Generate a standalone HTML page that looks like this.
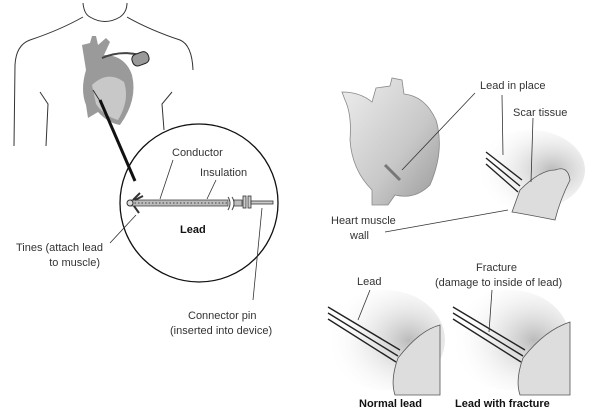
<!DOCTYPE html>
<html><head><meta charset="utf-8"><style>
html,body{margin:0;padding:0;background:#fff;width:600px;height:417px;overflow:hidden}
svg{display:block}
text{font-family:"Liberation Sans",sans-serif;font-size:11px;fill:#333}
.b{font-weight:bold;fill:#111}
</style></head><body>
<svg width="600" height="417" viewBox="0 0 600 417" xmlns="http://www.w3.org/2000/svg">
<defs>
<radialGradient id="sh" cx="0.7" cy="0.5" r="0.7"><stop offset="0" stop-color="#bbb"/><stop offset="1" stop-color="#fff" stop-opacity="0"/></radialGradient>
<linearGradient id="hg" x1="0" y1="0" x2="1" y2="1"><stop offset="0" stop-color="#eee"/><stop offset="0.6" stop-color="#c8c8c8"/><stop offset="1" stop-color="#999"/></linearGradient>
</defs>
<g fill="none" stroke="#333" stroke-width="1">
<!-- body -->
<path d="M83 3 Q84 14 90 17 Q105 26 120 17 Q127 12 127 3"/>
<path d="M83 17 Q60 30 30 40 Q16 45 15 65 L14 146"/>
<path d="M127 17 Q150 30 180 40 Q192 45 193 70"/>
<path d="M40 92 L48 104 L46 146"/>
<path d="M172 92 L162 104 L164 130"/>
</g>
<!-- small heart -->
<path d="M82 45 L90 43 L92 36 L96 36 L98 45 L106 38 L110 42 L104 55 Q125 55 132 75 Q138 100 120 125 Q108 123 98 112 L88 118 L86 105 Q80 90 86 70 Z" fill="#9a9a9a"/>
<path d="M92 85 Q108 70 124 82 Q130 100 118 120 Q104 116 96 104 Z" fill="#c8c8c8"/>
<path d="M102 58 Q120 50 140 55" stroke="#444" stroke-width="2" fill="none"/>
<rect x="132" y="53" width="17" height="12" rx="5" transform="rotate(-20 140 59)" fill="#999" stroke="#222"/>
<path d="M93 90 Q98 98 102 104" stroke="#333" fill="none"/>
<line x1="100" y1="100" x2="135" y2="181" stroke="#111" stroke-width="3"/>
<!-- circle -->
<circle cx="199" cy="203" r="79" fill="none" stroke="#111" stroke-width="1.3"/>
<rect x="130" y="200" width="98" height="6" fill="#bbb" stroke="#444" stroke-width="0.8"/>
<line x1="131" y1="203" x2="228" y2="203" stroke="#444" stroke-dasharray="1.5 2" stroke-width="1"/>
<path d="M228 197 Q232 203 228 210 M232 197 Q236 203 232 210" stroke="#444" fill="none"/>
<rect x="234" y="200" width="8" height="6" fill="#bbb" stroke="#444" stroke-width="0.8"/>
<rect x="243" y="196" width="3" height="12" fill="#ccc" stroke="#333" stroke-width="0.8"/>
<rect x="248" y="196" width="3" height="12" fill="#ccc" stroke="#333" stroke-width="0.8"/>
<rect x="251" y="201" width="22" height="3" fill="#ccc" stroke="#333" stroke-width="0.8"/>
<circle cx="130" cy="203" r="3" fill="#ddd" stroke="#333"/>
<path d="M133 200 L140 193 M135 200 L143 196 M134 206 L139 213" stroke="#333" stroke-width="2"/>
<g stroke="#333" stroke-width="0.8">
<line x1="173" y1="160" x2="160" y2="199"/>
<line x1="216" y1="180" x2="207" y2="199"/>
<line x1="136" y1="215" x2="110" y2="243"/>
<line x1="262" y1="208" x2="253" y2="300"/>
</g>
<text x="172" y="156">Conductor</text>
<text x="200" y="176">Insulation</text>
<text x="180" y="233" class="b">Lead</text>
<text x="103" y="251" text-anchor="end">Tines (attach lead</text>
<text x="100" y="266" text-anchor="end">to muscle)</text>
<text x="188" y="319">Connector pin</text>
<text x="170" y="334">(inserted into device)</text>
<!-- right heart -->
<path d="M342 92 Q360 92 372 102 L376 88 L390 86 L392 78 L402 80 L404 94 Q425 96 436 120 Q445 150 430 185 Q415 200 395 195 L388 205 L372 205 L372 190 Q352 170 350 140 Q352 115 345 100 Z" fill="url(#hg)" stroke="#888" stroke-width="0.8"/>
<path d="M385 165 L400 180" stroke="#777" stroke-width="3"/>
<line x1="475" y1="93" x2="402" y2="170" stroke="#333" stroke-width="0.8"/>
<!-- scar tissue -->
<ellipse cx="530" cy="170" rx="55" ry="40" fill="url(#sh)"/>
<path d="M486 152 L522 180 M486 158 L520 186 M486 164 L518 192" stroke="#222" stroke-width="1.4" fill="none"/>
<path d="M520 190 Q540 170 555 170 Q568 165 570 180 Q560 200 555 220 Q530 215 512 212 Z" fill="#ddd" stroke="#555" stroke-width="0.8"/>
<line x1="502" y1="95" x2="503" y2="155" stroke="#333" stroke-width="0.8"/>
<line x1="533" y1="118" x2="531" y2="182" stroke="#333" stroke-width="0.8"/>
<line x1="385" y1="232" x2="508" y2="210" stroke="#333" stroke-width="0.8"/>
<text x="480" y="89">Lead in place</text>
<text x="513" y="116">Scar tissue</text>
<text x="331" y="224">Heart muscle</text>
<text x="350" y="239">wall</text>
<!-- bottom images -->
<g>
<ellipse cx="385" cy="340" rx="60" ry="50" fill="url(#sh)"/>
<path d="M328 307 L400 350 M328 313 L398 356 M328 319 L396 362" stroke="#222" stroke-width="1.4" fill="none"/>
<path d="M398 358 Q420 330 440 325 L440 395 L395 395 Q390 380 398 358 Z" fill="#ddd" stroke="#555" stroke-width="0.8"/>
<ellipse cx="510" cy="340" rx="60" ry="50" fill="url(#sh)"/>
<path d="M453 307 L525 350 M453 313 L523 356 M453 319 L521 362" stroke="#222" stroke-width="1.4" fill="none"/>
<path d="M523 358 Q545 330 570 322 L570 395 L520 395 Q515 380 523 358 Z" fill="#ddd" stroke="#555" stroke-width="0.8"/>
</g>
<line x1="370" y1="290" x2="358" y2="320" stroke="#333" stroke-width="0.8"/>
<line x1="492" y1="290" x2="489" y2="332" stroke="#333" stroke-width="0.8"/>
<text x="357" y="285">Lead</text>
<text x="476" y="271">Fracture</text>
<text x="435" y="286">(damage to inside of lead)</text>
<text x="359" y="407" class="b">Normal lead</text>
<text x="455" y="407" class="b">Lead with fracture</text>
</svg>
</body></html>
